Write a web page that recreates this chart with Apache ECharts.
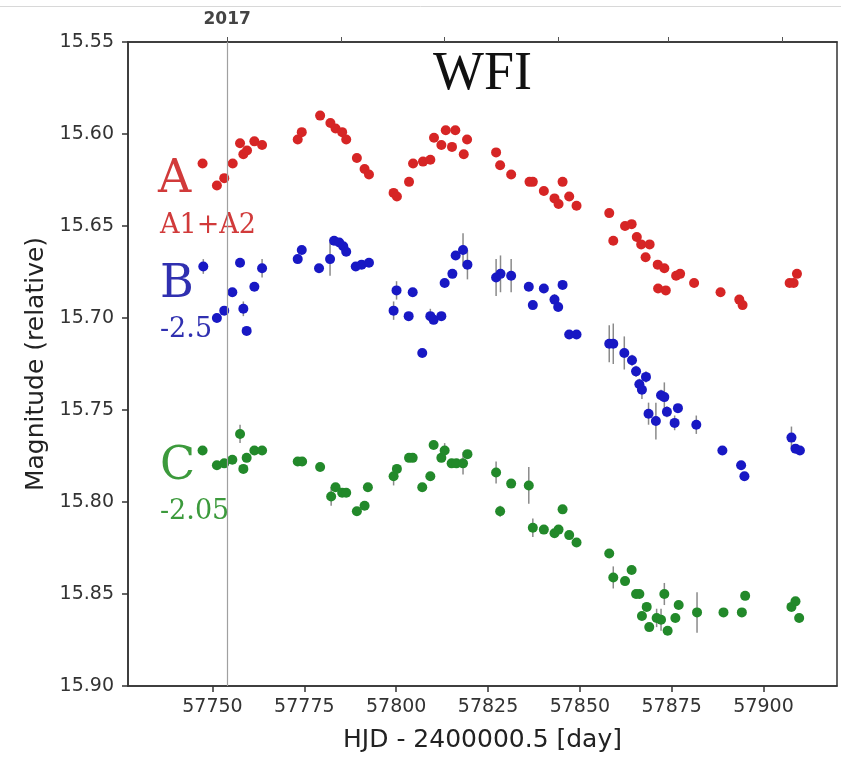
<!DOCTYPE html>
<html>
<head>
<meta charset="utf-8">
<script src="https://cdn.jsdelivr.net/npm/echarts@6/dist/echarts.min.js"></script>
<style>
html, body { margin: 0; padding: 0; background: #fff; }
#chart { width: 841px; height: 759px; }
</style>
</head>
<body>
<div id="chart"></div>
<script>
// light curves, [HJD - 2400000.5, magnitude, error]
const imageA = [
	[57747.3, 15.616, 0.002], [57751.2, 15.628, 0.002], [57753.2, 15.624, 0.002], [57755.5, 15.616, 0.002],
	[57757.5, 15.605, 0.002], [57758.4, 15.611, 0.002], [57759.4, 15.609, 0.002], [57761.4, 15.604, 0.002],
	[57763.5, 15.606, 0.002], [57773.2, 15.603, 0.002], [57774.3, 15.599, 0.002], [57779.3, 15.590, 0.002],
	[57782.1, 15.594, 0.002], [57783.5, 15.597, 0.002], [57785.3, 15.599, 0.002], [57786.4, 15.603, 0.002],
	[57789.3, 15.613, 0.002], [57791.4, 15.619, 0.002], [57792.6, 15.622, 0.002], [57799.3, 15.632, 0.002],
	[57800.2, 15.634, 0.002], [57803.5, 15.626, 0.002], [57804.6, 15.616, 0.002], [57807.3, 15.615, 0.002],
	[57809.3, 15.614, 0.002], [57810.3, 15.602, 0.002], [57812.3, 15.606, 0.002], [57813.5, 15.598, 0.002],
	[57815.2, 15.607, 0.002], [57816.1, 15.598, 0.002], [57818.4, 15.611, 0.002], [57819.3, 15.603, 0.002],
	[57827.2, 15.610, 0.002], [57828.3, 15.617, 0.002], [57831.3, 15.622, 0.002], [57836.3, 15.626, 0.002],
	[57837.2, 15.626, 0.002], [57840.2, 15.631, 0.002], [57843.1, 15.635, 0.002], [57844.2, 15.638, 0.002],
	[57845.3, 15.626, 0.002], [57847.1, 15.634, 0.002], [57849.1, 15.639, 0.002], [57858.0, 15.643, 0.002],
	[57859.1, 15.658, 0.002], [57862.3, 15.650, 0.002], [57864.1, 15.649, 0.002], [57865.5, 15.656, 0.002],
	[57866.7, 15.660, 0.002], [57867.9, 15.667, 0.002], [57869.0, 15.660, 0.002], [57871.2, 15.671, 0.002],
	[57871.3, 15.684, 0.002], [57873.0, 15.673, 0.002], [57873.4, 15.685, 0.002], [57876.2, 15.677, 0.002],
	[57877.3, 15.676, 0.002], [57881.1, 15.681, 0.002], [57888.3, 15.686, 0.002], [57893.4, 15.690, 0.002],
	[57894.3, 15.693, 0.002], [57907.1, 15.681, 0.002], [57908.2, 15.681, 0.002], [57909.1, 15.676, 0.002]
];
const imageB = [
	[57747.5, 15.672, 0.004], [57751.2, 15.700, 0.002], [57753.2, 15.696, 0.002], [57755.4, 15.686, 0.002],
	[57757.5, 15.670, 0.002], [57758.4, 15.695, 0.004], [57759.3, 15.707, 0.002], [57761.4, 15.683, 0.002],
	[57763.5, 15.673, 0.005], [57773.2, 15.668, 0.002], [57774.3, 15.663, 0.002], [57779.0, 15.673, 0.002],
	[57782.0, 15.668, 0.009], [57783.1, 15.658, 0.002], [57784.5, 15.659, 0.002], [57785.6, 15.661, 0.002],
	[57786.4, 15.664, 0.002], [57789.0, 15.672, 0.002], [57790.6, 15.671, 0.002], [57792.6, 15.670, 0.002],
	[57799.3, 15.696, 0.005], [57800.1, 15.685, 0.005], [57803.4, 15.699, 0.002], [57804.5, 15.686, 0.002],
	[57807.1, 15.719, 0.002], [57809.3, 15.699, 0.004], [57810.2, 15.701, 0.002], [57812.3, 15.699, 0.002],
	[57813.2, 15.681, 0.002], [57815.3, 15.676, 0.002], [57816.2, 15.666, 0.002], [57818.2, 15.663, 0.009],
	[57819.4, 15.671, 0.008], [57827.2, 15.678, 0.010], [57828.4, 15.676, 0.010], [57831.3, 15.677, 0.009],
	[57836.1, 15.683, 0.002], [57837.2, 15.693, 0.002], [57840.2, 15.684, 0.002], [57843.1, 15.690, 0.003],
	[57844.1, 15.694, 0.002], [57845.3, 15.682, 0.002], [57847.1, 15.709, 0.002], [57849.1, 15.709, 0.002],
	[57858.0, 15.714, 0.010], [57859.1, 15.714, 0.011], [57862.1, 15.719, 0.009], [57864.2, 15.723, 0.003],
	[57865.3, 15.729, 0.003], [57866.2, 15.736, 0.003], [57866.9, 15.739, 0.005], [57868.0, 15.732, 0.003],
	[57868.7, 15.752, 0.006], [57870.7, 15.756, 0.010], [57872.1, 15.742, 0.003], [57873.0, 15.743, 0.008],
	[57873.7, 15.751, 0.003], [57875.8, 15.757, 0.004], [57876.7, 15.749, 0.002], [57881.7, 15.758, 0.005],
	[57888.8, 15.772, 0.002], [57893.9, 15.780, 0.002], [57894.8, 15.786, 0.002], [57907.6, 15.765, 0.006],
	[57908.7, 15.771, 0.002], [57909.9, 15.772, 0.002]
];
const imageC = [
	[57747.3, 15.772, 0.002], [57751.2, 15.780, 0.002], [57753.2, 15.779, 0.002], [57755.4, 15.777, 0.002],
	[57757.5, 15.763, 0.005], [57758.4, 15.782, 0.002], [57759.3, 15.776, 0.002], [57761.4, 15.772, 0.002],
	[57763.5, 15.772, 0.002], [57773.2, 15.778, 0.002], [57774.4, 15.778, 0.002], [57779.3, 15.781, 0.002],
	[57782.3, 15.797, 0.005], [57783.5, 15.792, 0.002], [57785.3, 15.795, 0.002], [57786.4, 15.795, 0.002],
	[57789.3, 15.805, 0.002], [57791.4, 15.802, 0.002], [57792.3, 15.792, 0.002], [57799.3, 15.786, 0.005],
	[57800.2, 15.782, 0.002], [57803.5, 15.776, 0.002], [57804.5, 15.776, 0.002], [57807.1, 15.792, 0.002],
	[57809.3, 15.786, 0.002], [57810.2, 15.769, 0.002], [57812.3, 15.776, 0.002], [57813.2, 15.772, 0.004],
	[57815.1, 15.779, 0.002], [57816.4, 15.779, 0.002], [57818.2, 15.779, 0.006], [57819.4, 15.774, 0.002],
	[57827.2, 15.784, 0.006], [57828.3, 15.805, 0.003], [57831.3, 15.790, 0.002], [57836.1, 15.791, 0.010],
	[57837.2, 15.814, 0.005], [57840.2, 15.815, 0.002], [57843.1, 15.817, 0.002], [57844.2, 15.815, 0.002],
	[57845.3, 15.804, 0.002], [57847.1, 15.818, 0.002], [57849.1, 15.822, 0.002], [57858.0, 15.828, 0.002],
	[57859.1, 15.841, 0.006], [57862.3, 15.843, 0.002], [57864.1, 15.837, 0.002], [57865.3, 15.850, 0.002],
	[57866.2, 15.850, 0.002], [57866.9, 15.862, 0.002], [57868.2, 15.857, 0.002], [57868.9, 15.868, 0.002],
	[57870.9, 15.863, 0.005], [57872.1, 15.864, 0.006], [57873.0, 15.850, 0.006], [57873.9, 15.870, 0.002],
	[57876.0, 15.863, 0.002], [57876.9, 15.856, 0.002], [57881.9, 15.860, 0.011], [57889.1, 15.860, 0.002],
	[57894.1, 15.860, 0.002], [57895.0, 15.851, 0.002], [57907.6, 15.857, 0.002], [57908.7, 15.854, 0.002],
	[57909.7, 15.863, 0.002]
];

const xTicks = [57750, 57775, 57800, 57825, 57850, 57875, 57900];
const monthStarts = [57754, 57785, 57813, 57844, 57874, 57905];
const year2017 = 57754;

let chart = echarts.init(document.getElementById("chart"));

const sans = "DejaVu Sans";
const serif = "DejaVu Serif";

// vertical error bars
function errorSeries(data) {
	return {
		type: "custom",
		xAxisIndex: 0,
		yAxisIndex: 0,
		data: data,
		encode: { x: 0, y: 1 },
		z: 1,
		silent: true,
		renderItem: function (params, api) {
			const x = api.value(0), y = api.value(1), e = api.value(2);
			const p1 = api.coord([x, y - e]);
			const p2 = api.coord([x, y + e]);
			return {
				type: "line",
				shape: { x1: p1[0], y1: p1[1], x2: p2[0], y2: p2[1] },
				style: { stroke: "#8a8a8a", lineWidth: 1.5 },
			};
		},
	};
}

function pointSeries(data, color) {
	return {
		type: "scatter",
		data: data,
		symbolSize: 10,
		z: 3,
		itemStyle: { color: color, opacity: 1 },
	};
}

let option = {
	animation: false,
	backgroundColor: "#fff",
	grid: {
		left: 128,
		right: 4,
		top: 42,
		bottom: 73,
		show: true,
		borderColor: "#333",
		borderWidth: 1.5,
	},
	xAxis: [
		{
			type: "value",
			position: "bottom",
			min: 57727,
			max: 57920,
			name: "HJD - 2400000.5 [day]",
			nameLocation: "middle",
			nameGap: 42,
			nameTextStyle: { fontFamily: sans, fontSize: 25, color: "#222" },
			axisLine: { lineStyle: { color: "#333", width: 1.5 } },
			axisTick: { customValues: xTicks, length: 6, lineStyle: { color: "#333", width: 1.5 } },
			axisLabel: {
				customValues: xTicks,
				formatter: (v) => String(v),
				margin: 12,
				fontFamily: sans,
				fontSize: 19,
				color: "#333",
			},
			splitLine: { show: false },
		},
		{
			type: "value",
			position: "top",
			min: 57727,
			max: 57920,
			axisLine: { lineStyle: { color: "#333", width: 1.5 } },
			axisTick: { customValues: monthStarts, length: 5, lineStyle: { color: "#555", width: 1 } },
			axisLabel: {
				customValues: [year2017],
				formatter: () => "2017",
				margin: 14,
				fontFamily: sans,
				fontWeight: "bold",
				fontSize: 17,
				color: "#444",
			},
			splitLine: { show: false },
		},
	],
	yAxis: [
		{
			type: "value",
			inverse: true,
			min: 15.55,
			max: 15.9,
			interval: 0.05,
			name: "Magnitude (relative)",
			nameLocation: "middle",
			nameRotate: 90,
			nameGap: 78,
			nameTextStyle: { fontFamily: sans, fontSize: 25, color: "#222" },
			axisLine: { show: true, lineStyle: { color: "#333", width: 1.5 } },
			axisTick: { show: true, length: 6, lineStyle: { color: "#333", width: 1.5 } },
			axisLabel: {
				margin: 14,
				fontFamily: sans,
				fontSize: 19,
				color: "#333",
				formatter: (v) => v.toFixed(2),
			},
			splitLine: { show: false },
		},
	],
	graphic: [
		{ type: "line", shape: { x1: 0, y1: 6.5, x2: 841, y2: 6.5 }, style: { stroke: "#d8d8d8", lineWidth: 1 } },
		{ type: "text", left: 433, top: 48, style: { text: "WFI", font: '54px "Liberation Serif"', fill: "#111" } },
		{ type: "text", left: 158, top: 157, style: { text: "A", font: "46px " + serif, fill: "#d13a3a" } },
		{ type: "text", left: 160, top: 212, style: { text: "A1+A2", font: "27px " + serif, fill: "#d13a3a" } },
		{ type: "text", left: 160, top: 262, style: { text: "B", font: "46px " + serif, fill: "#3030b0" } },
		{ type: "text", left: 160, top: 316, style: { text: "-2.5", font: "27px " + serif, fill: "#3030b0" } },
		{ type: "text", left: 160, top: 444, style: { text: "C", font: "46px " + serif, fill: "#3c9a3c" } },
		{ type: "text", left: 160, top: 498, style: { text: "-2.05", font: "27px " + serif, fill: "#3c9a3c" } },
	],
	series: [
		{
			type: "scatter",
			data: [],
			markLine: {
				silent: true,
				symbol: "none",
				label: { show: false },
				lineStyle: { color: "#a0a0a0", width: 1.2, type: "solid" },
				data: [{ xAxis: year2017 }],
			},
		},
		errorSeries(imageA),
		errorSeries(imageB),
		errorSeries(imageC),
		pointSeries(imageA, "#d62525"),
		pointSeries(imageB, "#1818c4"),
		pointSeries(imageC, "#22892a"),
	],
};

chart.setOption(option);
</script>
</body>
</html>
